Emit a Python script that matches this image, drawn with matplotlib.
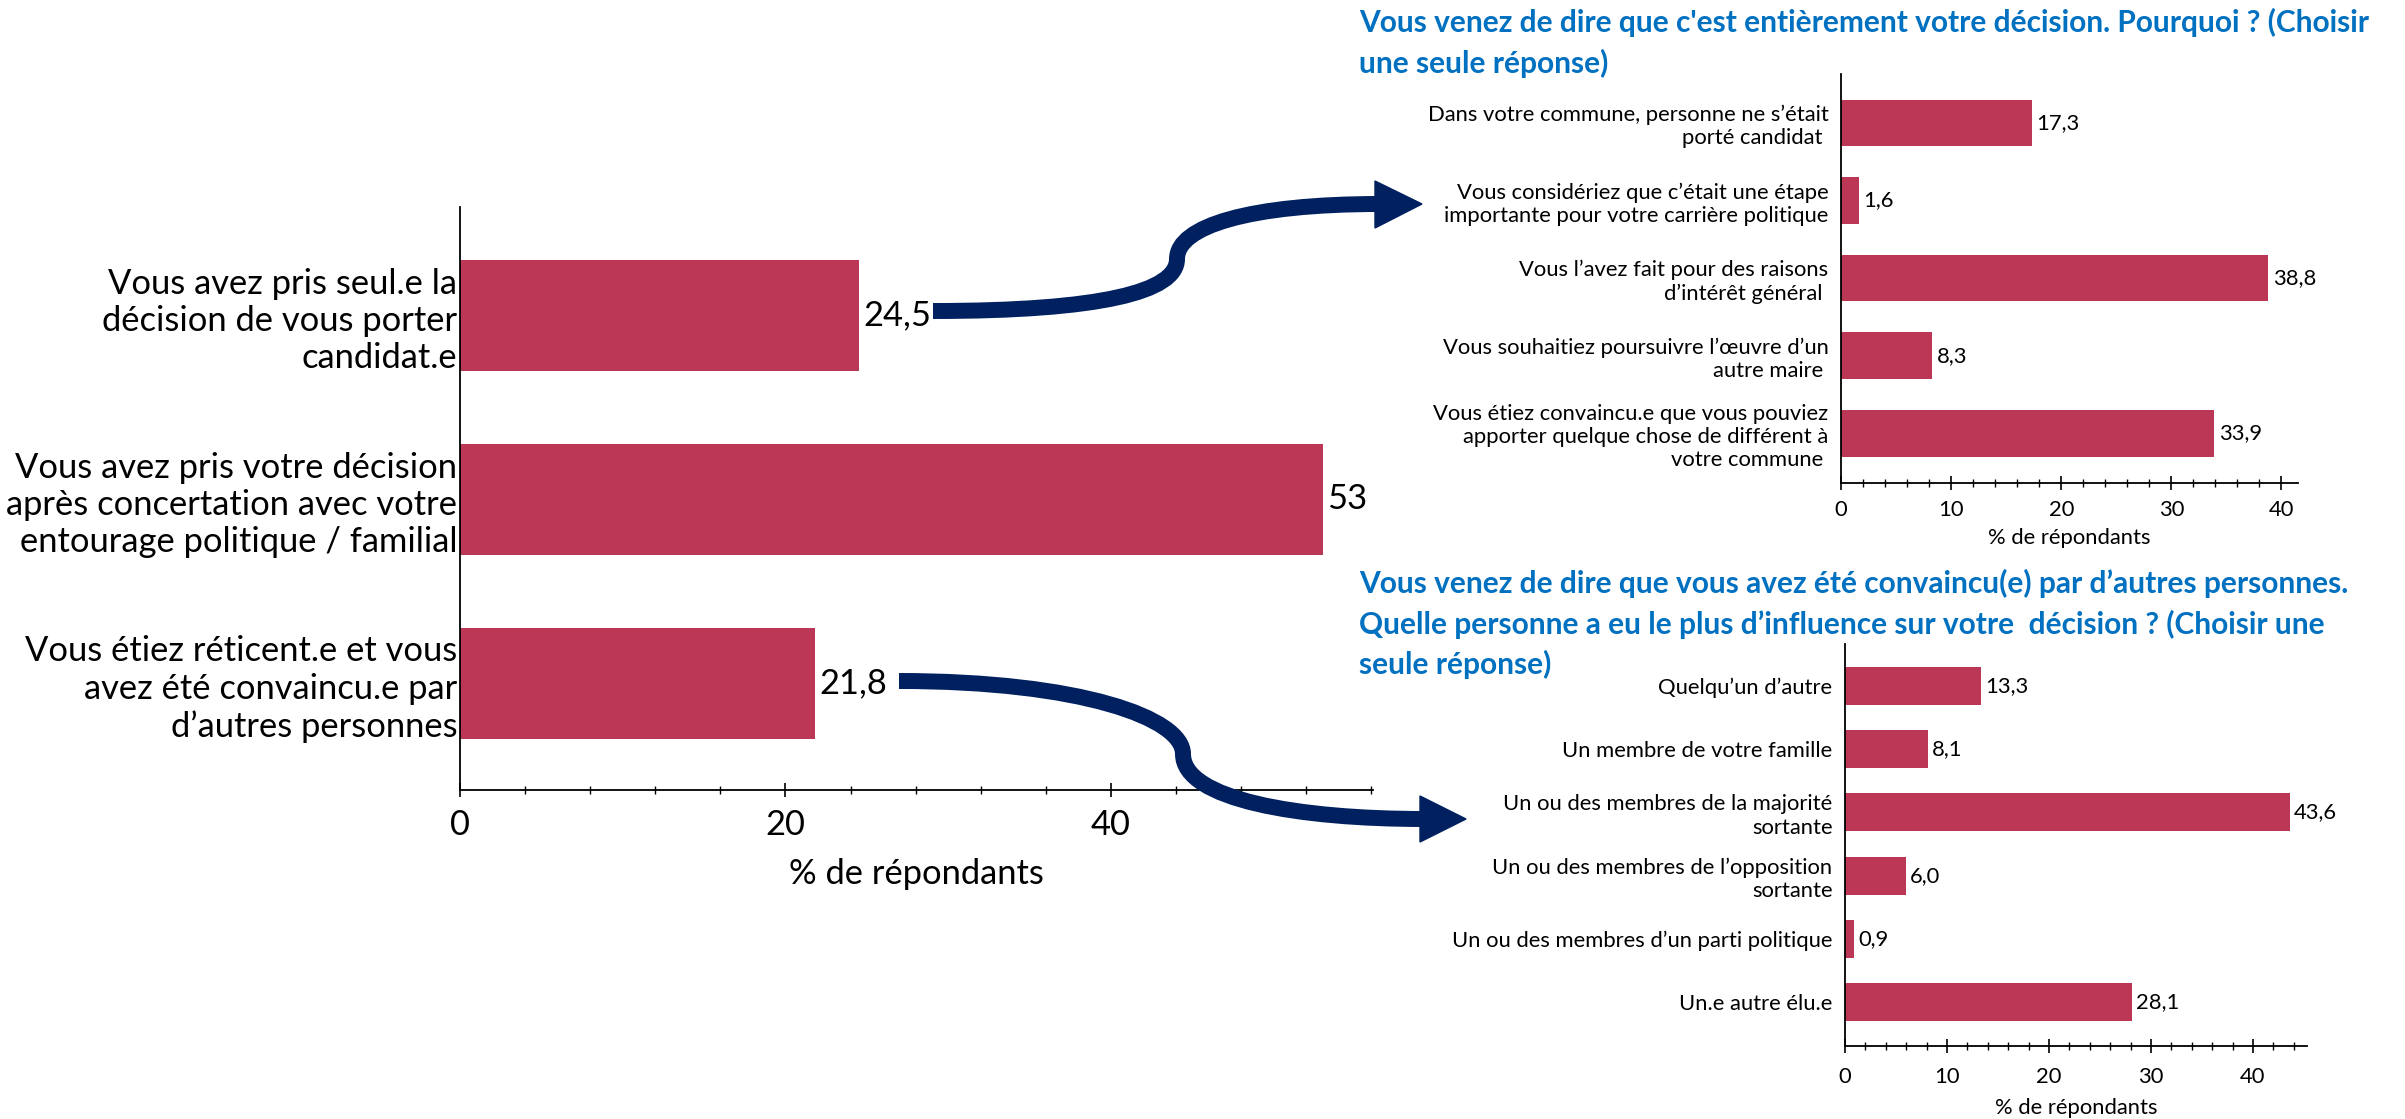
import numpy as np
import matplotlib
matplotlib.use("Agg")
from matplotlib import pyplot as plt
from matplotlib.path import Path
from matplotlib.patches import PathPatch, Polygon
from matplotlib.ticker import MultipleLocator

plt.rcParams['font.family'] = ['Lato', 'DejaVu Sans']

BAR = '#BC3756'
NAVY = '#002060'
TITLE = '#0070C0'

# main chart
main_labels = ["Vous avez pris seul.e la\ndécision de vous porter\ncandidat.e",
               "Vous avez pris votre décision\naprès concertation avec votre\nentourage politique / familial",
               "Vous étiez réticent.e et vous\navez été convaincu.e par\nd’autres personnes"]
main_values = [24.5, 53, 21.8]

# top right chart
why_title = "Vous venez de dire que c'est entièrement votre décision. Pourquoi ? (Choisir\nune seule réponse)"
why_labels = ["Dans votre commune, personne ne s’était\nporté candidat ",
              "Vous considériez que c’était une étape\nimportante pour votre carrière politique",
              "Vous l’avez fait pour des raisons\nd’intérêt général ",
              "Vous souhaitiez poursuivre l’œuvre d’un\nautre maire ",
              "Vous étiez convaincu.e que vous pouviez\napporter quelque chose de différent à\nvotre commune "]
why_values = [17.3, 1.6, 38.8, 8.3, 33.9]

# bottom right chart
who_title = ("Vous venez de dire que vous avez été convaincu(e) par d’autres personnes.\n"
             "Quelle personne a eu le plus d’influence sur votre  décision ? (Choisir une\n"
             "seule réponse)")
who_labels = ["Quelqu’un d’autre",
              "Un membre de votre famille",
              "Un ou des membres de la majorité\nsortante",
              "Un ou des membres de l’opposition\nsortante",
              "Un ou des membres d’un parti politique",
              "Un.e autre élu.e"]
who_values = [13.3, 8.1, 43.6, 6.0, 0.9, 28.1]

W, H = 2405, 1119
fig = plt.figure(figsize=(W / 100, H / 100), dpi=100)


def px_axes(left, top, right, bottom):
    return fig.add_axes([left / W, 1 - bottom / H, (right - left) / W, (bottom - top) / H])


def barh_chart(ax, labels, values, xmax, ylim, major, minor, fs, fmt, lab_pad, tick_pad, xl_pad, val_pad):
    y = np.arange(len(values))
    ax.barh(y, values, height=0.6, color=BAR)
    ax.set_yticks(y)
    ax.set_yticklabels(labels, fontsize=fs, linespacing=1.2)
    ax.set_ylim(*ylim)
    ax.set_xlim(0, xmax)
    ax.xaxis.set_major_locator(MultipleLocator(major))
    ax.xaxis.set_minor_locator(MultipleLocator(minor))
    ax.tick_params(axis='y', length=0, pad=lab_pad)
    ax.tick_params(axis='x', which='major', direction='inout', length=10, width=1.2,
                   labelsize=fs, pad=tick_pad)
    ax.tick_params(axis='x', which='minor', direction='inout', length=6, width=1)
    for s in ['top', 'right']:
        ax.spines[s].set_visible(False)
    for s in ['left', 'bottom']:
        ax.spines[s].set_linewidth(1.3)
    ax.set_xlabel("% de répondants", fontsize=fs, labelpad=xl_pad)
    for yi, v in zip(y, values):
        ax.text(v + val_pad, yi, fmt(v), va='center', ha='left', fontsize=fs)


ax1 = px_axes(460, 207, 1373, 790)
barh_chart(ax1, main_labels, main_values, 56.1, (2.58, -0.59), 20, 4, 24.8,
           lambda v: f"{v:g}".replace('.', ','), 2, 9, 12, 0.3)

ax2 = px_axes(1841, 74, 2298, 483)
barh_chart(ax2, why_labels, why_values, 41.5, (4.64, -0.63), 10, 2, 15.8,
           lambda v: f"{v:.1f}".replace('.', ','), 9, 7, 6, 0.4)

ax3 = px_axes(1845, 644, 2307, 1046)
barh_chart(ax3, who_labels, who_values, 45.3, (5.69, -0.66), 10, 2, 15.8,
           lambda v: f"{v:.1f}".replace('.', ','), 9, 10, 8, 0.4)

fig.text(1359 / W, 1 - 8 / H, why_title, fontsize=21.5, fontweight='bold', color=TITLE,
         ha='left', va='top', linespacing=1.5)
fig.text(1359 / W, 1 - 569 / H, who_title, fontsize=21.5, fontweight='bold', color=TITLE,
         ha='left', va='top', linespacing=1.48)

# overlay for the connecting arrows, in pixel coordinates
ov = fig.add_axes([0, 0, 1, 1], zorder=10)
ov.set_xlim(0, W)
ov.set_ylim(H, 0)
ov.axis('off')
ov.patch.set_alpha(0)

C = Path.CURVE4
arrow_up = Path([(933, 311), (1100, 311), (1177, 292), (1177, 259),
                 (1177, 226), (1250, 204), (1380, 204)],
                [Path.MOVETO, C, C, C, C, C, C])
arrow_down = Path([(899, 681), (1080, 681), (1183, 718), (1183, 754),
                   (1183, 800), (1300, 819), (1424, 819)],
                  [Path.MOVETO, C, C, C, C, C, C])
for p in (arrow_up, arrow_down):
    ov.add_patch(PathPatch(p, fill=False, edgecolor=NAVY, lw=11.5, capstyle='butt'))
ov.add_patch(Polygon([(1375, 181), (1422, 204), (1375, 228)], closed=True, color=NAVY))
ov.add_patch(Polygon([(1420, 796), (1466, 819), (1420, 842)], closed=True, color=NAVY))

fig.savefig("out.png", dpi=100)
